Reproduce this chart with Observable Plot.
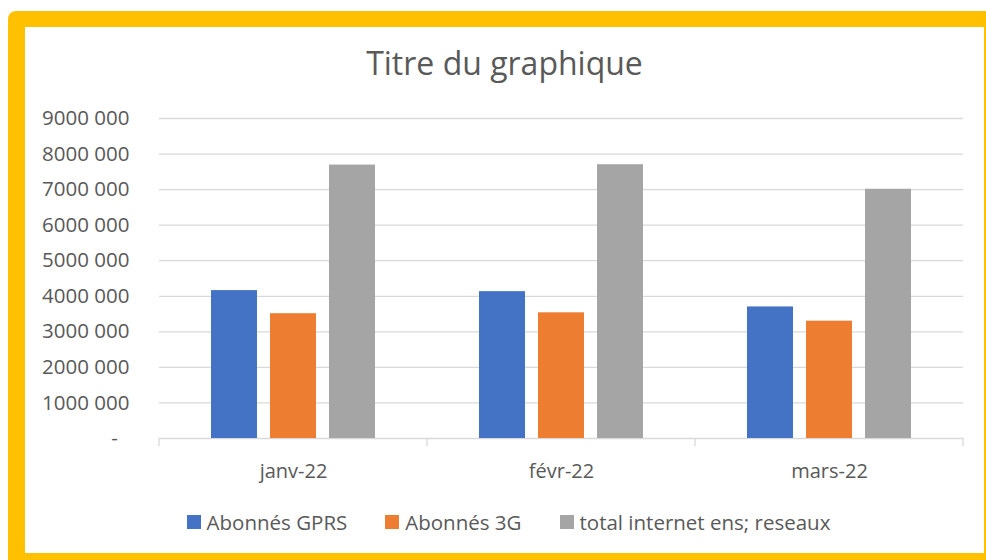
<!DOCTYPE html>
<html><head><meta charset="utf-8">
<script src="https://cdn.jsdelivr.net/npm/d3@7"></script>
<script src="https://cdn.jsdelivr.net/npm/@observablehq/plot@0.6"></script>
<style>
html,body{margin:0;padding:0;}
body{background:#fff;width:986px;height:560px;overflow:hidden;position:relative;font-family:"Open Sans",sans-serif;}
#frame{position:absolute;left:8px;top:11px;width:990px;height:560px;background:#FFC000;border-radius:8px;}
#inner{position:absolute;left:17px;top:16px;width:959px;height:526px;background:#fff;}
#title{position:absolute;left:0;top:20px;width:959px;text-align:center;font-size:32px;line-height:31px;color:#595959;}
#chart{position:absolute;left:0;top:73px;}
#legend{position:absolute;left:0;top:484px;width:959px;display:flex;justify-content:center;font-size:20.5px;line-height:22px;color:#595959;padding-left:8px;box-sizing:border-box;}
.item{display:flex;align-items:center;margin:0 19px;}
.sw{width:14px;height:14px;margin-right:6px;}
</style></head>
<body>
<div id="frame"><div id="inner">
<div id="title">Titre du graphique</div>
<div id="chart"></div>
<div id="legend"></div>
</div></div>
<script>
const months = ["janv-22", "févr-22", "mars-22"];
const series = ["Abonnés GPRS", "Abonnés 3G", "total internet ens; reseaux"];
const gprs = [4160000, 4130000, 3700000];
const abo3g = [3510000, 3535000, 3300000];
const total = [7690000, 7700000, 7010000];
const colors = ["#4472C4", "#ED7D31", "#A5A5A5"];
const yTicks = [0, 1000000, 2000000, 3000000, 4000000, 5000000, 6000000, 7000000, 8000000, 9000000];

const values = [gprs, abo3g, total];
const data = months.flatMap((m, i) => series.map((s, j) => ({month: m, series: s, value: values[j][i]})));

const fmt = d => d === 0 ? "-\u2007" : `${d / 1000} 000`;

const plot = Plot.plot({
  width: 959, height: 400,
  marginLeft: 133, marginRight: 21, marginTop: 18, marginBottom: 62,
  style: {fontFamily: "'Open Sans', sans-serif", fontSize: "20px", color: "#595959", background: "transparent", overflow: "visible"},
  fx: {domain: months, padding: 0, label: null, axis: null},
  x: {domain: series, paddingInner: 0.22, paddingOuter: 0.845, axis: null},
  y: {domain: [0, 9000000], axis: null, label: null},
  color: {domain: series, range: colors},
  marks: [
    Plot.ruleY(yTicks, {stroke: "#D9D9D9", strokeWidth: 1.3}),
    Plot.barY(data, {fx: "month", x: "series", y: "value", fill: "series"}),
    Plot.axisY({ticks: yTicks, tickSize: 0, tickPadding: 30, tickFormat: fmt, fill: "#595959", label: null, fontSize: 20.5}),
    Plot.axisFx({anchor: "bottom", tickSize: 0, tickPadding: 25, label: null, fill: "#595959"})
  ]
});

// category boundary tick marks (Excel style) from the library's scales
const fx = plot.scale("fx");
const y = plot.scale("y");
const y0 = y.apply(0);
const bounds = months.map(m => fx.apply(m));
bounds.push(fx.apply(months[months.length - 1]) + fx.bandwidth);
d3.select(plot).append("g").selectAll("line").data(bounds).join("line")
  .attr("x1", d => d).attr("x2", d => d)
  .attr("y1", y0).attr("y2", y0 + 8)
  .attr("stroke", "#D9D9D9").attr("stroke-width", 1.3);

document.getElementById("chart").appendChild(plot);

const legend = d3.select("#legend");
series.forEach((s, i) => {
  const it = legend.append("div").attr("class", "item");
  it.append("div").attr("class", "sw").style("background", colors[i]);
  it.append("span").text(s);
});
</script>
</body></html>
